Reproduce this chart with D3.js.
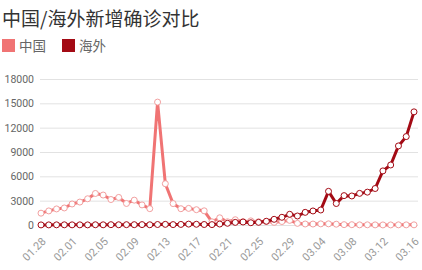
<!DOCTYPE html>
<html>
<head>
<meta charset="utf-8">
<script src="https://cdn.jsdelivr.net/npm/d3@7"></script>
<style>
  body { margin: 0; background: #fff; }
  svg { display: block; font-family: "Noto Sans CJK SC", "Noto Sans", sans-serif; }
</style>
</head>
<body>
<div id="chart"></div>
<script>
// dates 01.28 -> 03.16 (2020)
var dates = [
  "01.28","01.29","01.30","01.31","02.01","02.02","02.03","02.04","02.05","02.06",
  "02.07","02.08","02.09","02.10","02.11","02.12","02.13","02.14","02.15","02.16",
  "02.17","02.18","02.19","02.20","02.21","02.22","02.23","02.24","02.25","02.26",
  "02.27","02.28","02.29","03.01","03.02","03.03","03.04","03.05","03.06","03.07",
  "03.08","03.09","03.10","03.11","03.12","03.13","03.14","03.15","03.16"
];
var china = [
  1459,1737,1982,2102,2590,2829,3235,3887,3694,3143,
  3399,2656,3062,2478,2015,15152,5090,2641,2009,2048,
  1886,1749,394,889,397,648,409,508,406,433,
  327,427,573,202,125,119,139,143,99,44,
  40,19,24,15,8,11,20,16,21
];
var overseas = [
  10,15,20,25,20,20,15,30,25,40,
  30,40,40,50,30,60,80,50,70,110,
  90,60,50,120,210,320,370,280,330,460,
  700,950,1320,1110,1560,1730,1850,4150,2650,3620,
  3580,3900,4050,4500,6670,7400,9750,10900,13950
];
var yTicks = [0, 3000, 6000, 9000, 12000, 15000, 18000];
var seriesNames = ["中国", "海外"];
var colors = ["#f07474", "#a30a14"];

var W = 422, H = 270;
var svg = d3.select("#chart").append("svg").attr("width", W).attr("height", H);

svg.append("text").attr("x", 2).attr("y", 26)
  .attr("font-size", 19).attr("fill", "#333").text("中国/海外新增确诊对比");

// legend
var lg = svg.append("g").attr("transform", "translate(2,39)");
var legendX = [0, 60];
seriesNames.forEach(function (n, i) {
  lg.append("rect").attr("x", legendX[i]).attr("y", 0).attr("width", 13).attr("height", 13).attr("fill", colors[i]);
  lg.append("text").attr("x", legendX[i] + 17).attr("y", 11.5)
    .attr("font-size", 13.5).attr("fill", "#666").text(n);
});

var x = d3.scalePoint().domain(dates).range([41, 414]);
var y = d3.scaleLinear().domain([0, 18000]).range([225, 79]);

// grid + y axis
var ya = svg.append("g").attr("transform", "translate(40,0)")
  .call(d3.axisLeft(y).tickValues(yTicks).tickSize(-378).tickFormat(d3.format("d")));
ya.select(".domain").remove();
ya.selectAll("line").attr("stroke", "#e2e2e2");
ya.selectAll("text").attr("fill", "#666").attr("font-size", 10.5).attr("x", -6)
  .attr("font-family", "Roboto, sans-serif");

// x axis
var xa = svg.append("g").attr("transform", "translate(0,226)")
  .call(d3.axisBottom(x).tickValues(dates.filter(function (d, i) { return i % 4 === 0; })).tickSize(0));
xa.select(".domain").remove();
xa.selectAll("text").attr("fill", "#999").attr("font-size", 11)
  .attr("font-family", "Roboto, sans-serif")
  .attr("text-anchor", "end").attr("dy", 0)
  .attr("transform", "translate(3,14) rotate(-45)");

var line = d3.line().x(function (d, i) { return x(dates[i]); }).y(function (d) { return y(d); });

[china, overseas].forEach(function (s, k) {
  svg.append("path").datum(s).attr("d", line)
    .attr("fill", "none").attr("stroke", colors[k]).attr("stroke-width", 3)
    .attr("stroke-linejoin", "round");
  svg.append("g").selectAll("circle").data(s).join("circle")
    .attr("cx", function (d, i) { return x(dates[i]); })
    .attr("cy", function (d) { return y(d); })
    .attr("r", 3).attr("fill", "#fff")
    .attr("stroke", k === 0 ? "#f2a0a0" : "#a30a14").attr("stroke-width", 1);
});
</script>
</body>
</html>
